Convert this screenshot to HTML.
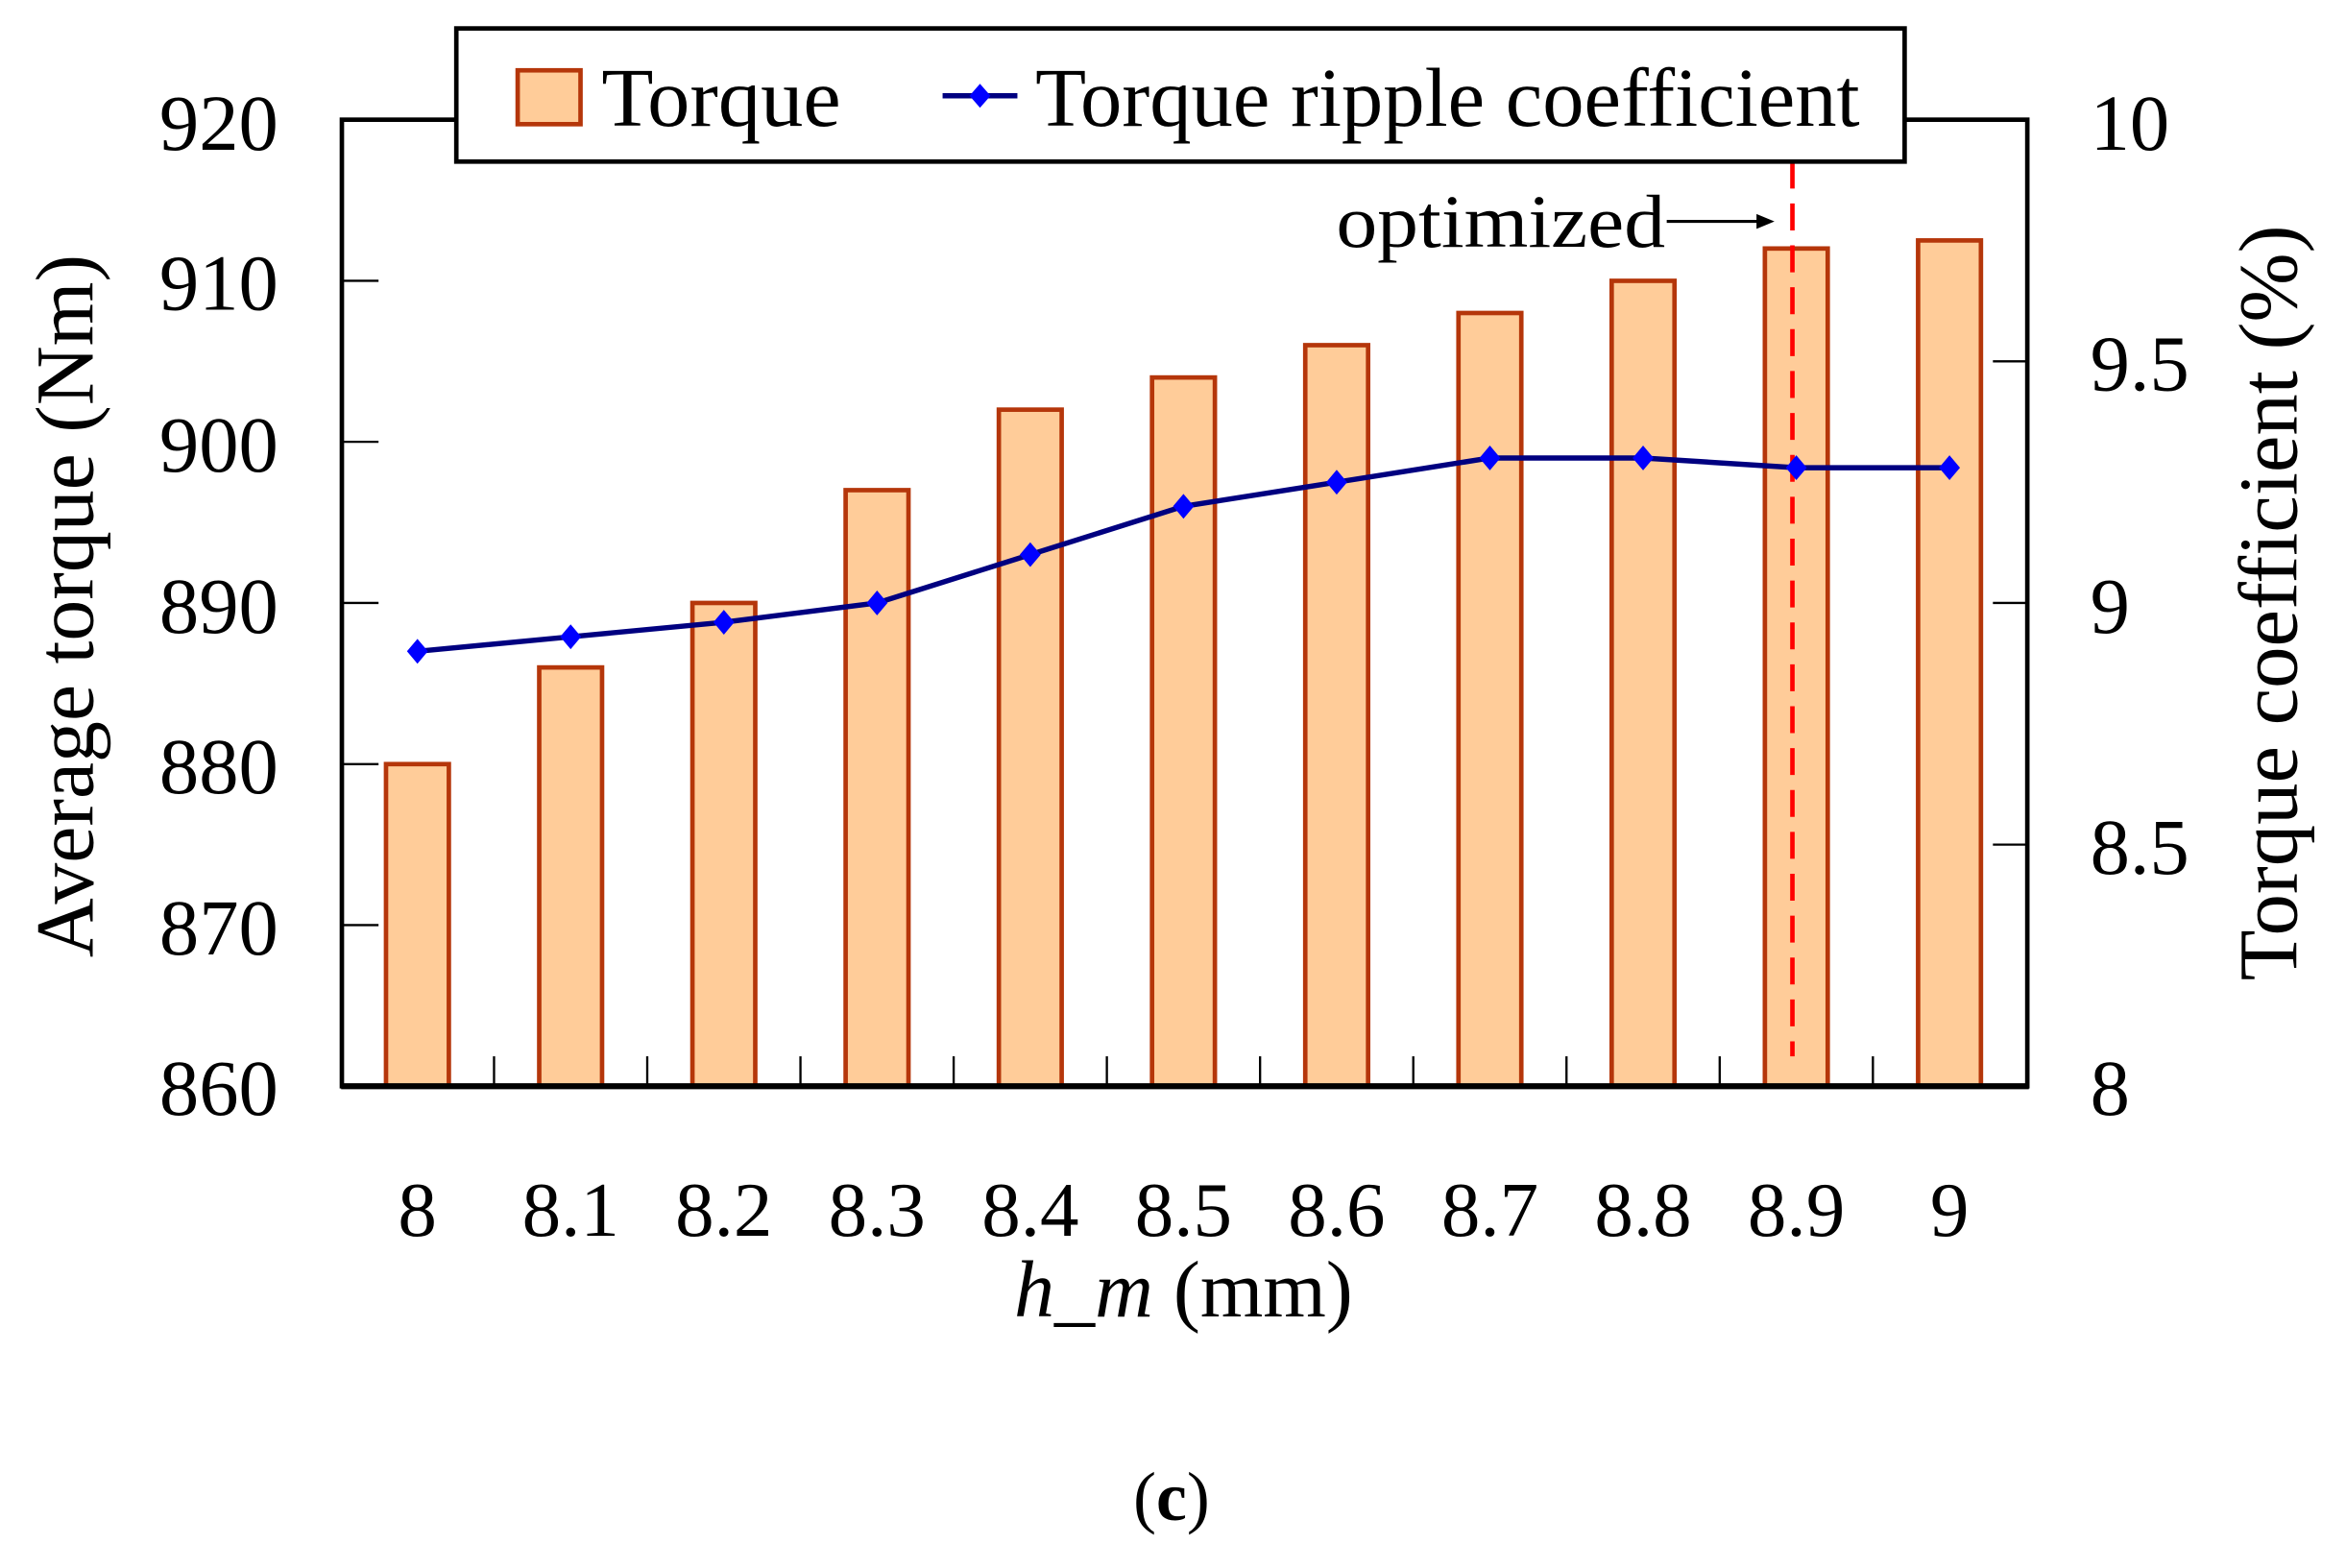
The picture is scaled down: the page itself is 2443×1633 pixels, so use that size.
<!DOCTYPE html>
<html><head><meta charset="utf-8"><style>html,body{margin:0;padding:0;background:#fff}svg{display:block}</style></head>
<body>
<svg width="2443" height="1633" viewBox="0 0 1568 1048" preserveAspectRatio="none" xmlns="http://www.w3.org/2000/svg" font-family="'Liberation Serif', serif">
<rect width="1568" height="1048" fill="#fff"/>
<g fill="#FFCC99" stroke="#B5360A" stroke-width="3">
<rect x="258" y="510.7" width="42" height="215.3"/>
<rect x="360.4" y="446.1" width="42" height="279.9"/>
<rect x="462.8" y="403" width="42" height="323"/>
<rect x="565.2" y="327.6" width="42" height="398.4"/>
<rect x="667.6" y="273.8" width="42" height="452.2"/>
<rect x="770" y="252.3" width="42" height="473.7"/>
<rect x="872.4" y="230.7" width="42" height="495.3"/>
<rect x="974.8" y="209.2" width="42" height="516.8"/>
<rect x="1077.2" y="187.7" width="42" height="538.3"/>
<rect x="1179.6" y="166.1" width="42" height="559.9"/>
<rect x="1282" y="160.7" width="42" height="565.3"/>
</g>
<line x1="1198" y1="108" x2="1198" y2="706" stroke="#FF0000" stroke-width="3" stroke-dasharray="18,10"/>
<polyline fill="none" stroke="#000080" stroke-width="3.5" points="279,435.3 381.4,425.6 483.8,415.9 586.2,403 688.6,370.7 791,338.4 893.4,322.3 995.8,306.1 1098.2,306.1 1200.6,312.6 1303,312.6"/>
<g fill="#0000FF">
<path d="M279,427 l7,8.3 l-7,8.3 l-7,-8.3z"/>
<path d="M381.4,417.3 l7,8.3 l-7,8.3 l-7,-8.3z"/>
<path d="M483.8,407.6 l7,8.3 l-7,8.3 l-7,-8.3z"/>
<path d="M586.2,394.7 l7,8.3 l-7,8.3 l-7,-8.3z"/>
<path d="M688.6,362.4 l7,8.3 l-7,8.3 l-7,-8.3z"/>
<path d="M791,330.1 l7,8.3 l-7,8.3 l-7,-8.3z"/>
<path d="M893.4,314 l7,8.3 l-7,8.3 l-7,-8.3z"/>
<path d="M995.8,297.8 l7,8.3 l-7,8.3 l-7,-8.3z"/>
<path d="M1098.2,297.8 l7,8.3 l-7,8.3 l-7,-8.3z"/>
<path d="M1200.6,304.3 l7,8.3 l-7,8.3 l-7,-8.3z"/>
<path d="M1303,304.3 l7,8.3 l-7,8.3 l-7,-8.3z"/>
</g>
<rect x="228.5" y="80" width="1126.5" height="646" fill="none" stroke="#000" stroke-width="3"/>
<line x1="228" y1="726" x2="1356" y2="726" stroke="#000" stroke-width="4"/>
<g stroke="#000" stroke-width="1.5">
<line x1="228" y1="187.7" x2="253" y2="187.7"/><line x1="228" y1="295.3" x2="253" y2="295.3"/><line x1="228" y1="403" x2="253" y2="403"/><line x1="228" y1="510.7" x2="253" y2="510.7"/><line x1="228" y1="618.3" x2="253" y2="618.3"/>
<line x1="1355" y1="241.5" x2="1332" y2="241.5"/><line x1="1355" y1="403" x2="1332" y2="403"/><line x1="1355" y1="564.5" x2="1332" y2="564.5"/>
<line x1="330.2" y1="726" x2="330.2" y2="706"/><line x1="432.6" y1="726" x2="432.6" y2="706"/><line x1="535" y1="726" x2="535" y2="706"/><line x1="637.4" y1="726" x2="637.4" y2="706"/><line x1="739.8" y1="726" x2="739.8" y2="706"/><line x1="842.2" y1="726" x2="842.2" y2="706"/><line x1="944.6" y1="726" x2="944.6" y2="706"/><line x1="1047" y1="726" x2="1047" y2="706"/><line x1="1149.4" y1="726" x2="1149.4" y2="706"/><line x1="1251.8" y1="726" x2="1251.8" y2="706"/>
</g>
<rect x="305" y="19" width="968" height="89" fill="#fff" stroke="#000" stroke-width="3"/>
<rect x="346" y="47" width="42" height="36" fill="#FFCC99" stroke="#B5360A" stroke-width="3"/>
<text x="402" y="84" font-size="56" textLength="160" lengthAdjust="spacingAndGlyphs">Torque</text>
<line x1="630" y1="64" x2="680" y2="64" stroke="#000080" stroke-width="3.5"/>
<path d="M655,56 l7,8 l-7,8 l-7,-8z" fill="#0000FF"/>
<text x="692" y="84" font-size="56" textLength="551" lengthAdjust="spacingAndGlyphs">Torque ripple coefficient</text>
<text x="893" y="165" font-size="50" textLength="220" lengthAdjust="spacingAndGlyphs">optimized</text>
<line x1="1114" y1="148" x2="1176" y2="148" stroke="#000" stroke-width="2"/>
<path d="M1186,148 l-12,-5 l0,10z" fill="#000"/>
<g font-size="53" text-anchor="end">
<text x="186" y="100">920</text><text x="186" y="207">910</text><text x="186" y="315">900</text><text x="186" y="423">890</text><text x="186" y="530">880</text><text x="186" y="638">870</text><text x="186" y="745">860</text>
</g>
<g font-size="53" text-anchor="start">
<text x="1397" y="100">10</text><text x="1397" y="261">9.5</text><text x="1397" y="423">9</text><text x="1397" y="584">8.5</text><text x="1397" y="745">8</text>
</g>
<g font-size="52" text-anchor="middle">
<text x="279" y="826">8</text><text x="381.4" y="826">8.1</text><text x="483.8" y="826">8.2</text><text x="586.2" y="826">8.3</text><text x="688.6" y="826">8.4</text><text x="791" y="826">8.5</text><text x="893.4" y="826">8.6</text><text x="995.8" y="826">8.7</text><text x="1098.2" y="826">8.8</text><text x="1200.6" y="826">8.9</text><text x="1303" y="826">9</text>
</g>
<text x="791" y="880" font-size="54" text-anchor="middle"><tspan font-style="italic">h_m</tspan> (mm)</text>
<text x="783" y="1016" font-size="46" text-anchor="middle">(<tspan font-weight="bold">c</tspan>)</text>
<text transform="translate(62,405) rotate(-90)" font-size="55" text-anchor="middle" textLength="470" lengthAdjust="spacingAndGlyphs">Average torque (Nm)</text>
<text transform="translate(1535,403) rotate(-90)" font-size="56" text-anchor="middle" textLength="505" lengthAdjust="spacingAndGlyphs">Torque coefficient (%)</text>
</svg>
</body></html>
